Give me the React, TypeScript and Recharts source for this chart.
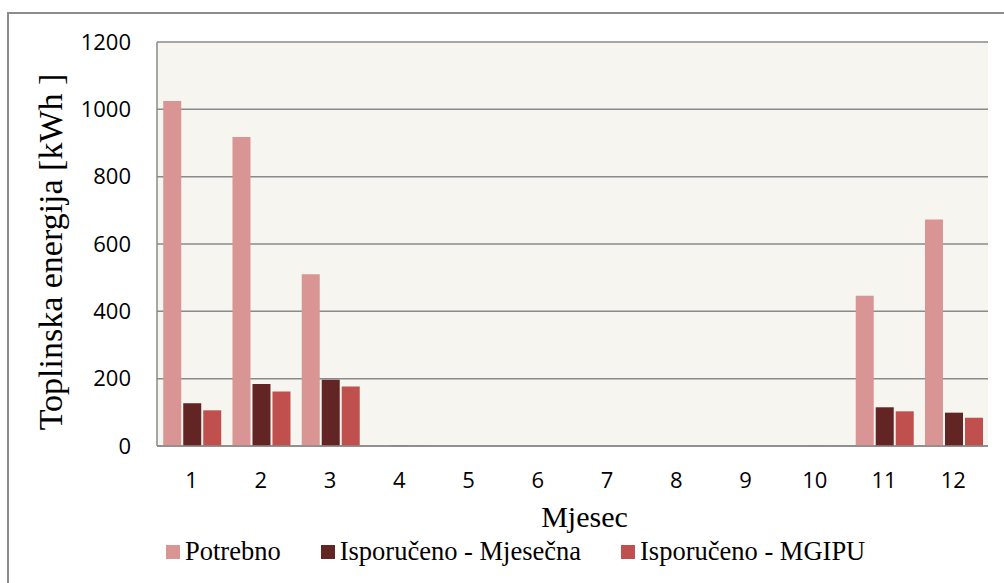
import React from 'react';
import { BarChart, Bar, XAxis, YAxis, CartesianGrid, Legend } from 'recharts';

const months = ['1', '2', '3', '4', '5', '6', '7', '8', '9', '10', '11', '12'];
const potrebno = [1025, 918, 510, 2, 0, 0, 0, 0, 0, 1, 446, 673];
const isporucenoMjesecna = [127, 184, 197, 1, 0, 0, 0, 0, 0, 0.5, 115, 99];
const isporucenoMgipu = [106, 162, 177, 1, 0, 0, 0, 0, 0, 0.5, 103, 84];
const yTicks = [0, 200, 400, 600, 800, 1000, 1200];
const seriesOrder = ['Potrebno', 'Isporučeno - Mjesečna', 'Isporučeno - MGIPU'];

const data = months.map((m, i) => ({
  month: m,
  potrebno: potrebno[i],
  mjesecna: isporucenoMjesecna[i],
  mgipu: isporucenoMgipu[i],
}));

const serif = 'Liberation Serif, DejaVu Serif, Noto Serif, Times New Roman, Times, Tinos, FreeSerif, serif';
const sans = "'Open Sans', 'Noto Sans', sans-serif";

// legend drawn in one row with wide gaps like the original
const renderLegend = (props: any) => {
  const items = [...props.payload].sort(
    (a: any, b: any) => seriesOrder.indexOf(a.value) - seriesOrder.indexOf(b.value)
  );
  return (
    <div style={{ display: 'flex', alignItems: 'center', fontFamily: serif, fontSize: 26.5, color: '#000' }}>
      {items.map((entry: any) => (
        <div key={entry.value} style={{ display: 'flex', alignItems: 'center', marginRight: 40 }}>
          <span style={{ width: 14, height: 14, background: entry.color, display: 'inline-block', marginRight: 5 }} />
          <span>{entry.value}</span>
        </div>
      ))}
    </div>
  );
};

const YTitle = (props: any) => {
  const { viewBox } = props;
  const cx = viewBox.x + 62;
  const cy = viewBox.y + viewBox.height / 2 + 8;
  return (
    <text
      transform={`translate(${cx}, ${cy}) rotate(-90)`}
      textAnchor="middle"
      fontFamily={serif}
      fontSize={34}
      fill="#000"
    >
      Toplinska energija  [kWh ]
    </text>
  );
};

const XTitle = (props: any) => {
  const { viewBox } = props;
  return (
    <text
      x={viewBox.x + viewBox.width / 2 + 12}
      y={viewBox.y + 81}
      textAnchor="middle"
      fontFamily={serif}
      fontSize={30}
      fill="#000"
    >
      Mjesec
    </text>
  );
};

export default function App() {
  return (
    <div style={{ position: 'fixed', left: 0, top: 0, width: 1004, height: 583, background: '#fff', overflow: 'hidden' }}>
      <div
        style={{
          position: 'absolute',
          left: 7,
          top: 12,
          width: 1010,
          height: 600,
          border: '2px solid #8c8c8c',
        }}
      />
      <div style={{ position: 'absolute', left: 0, top: 0 }}>
        <BarChart
          width={1004}
          height={583}
          data={data}
          margin={{ top: 42, right: 16, left: 0, bottom: 0 }}
          barCategoryGap="9%"
          barGap={2}
        >
          <CartesianGrid vertical={false} stroke="#8a8a8a" strokeWidth={1.5} fill="#f6f5f0" />
          <XAxis
            dataKey="month"
            height={137}
            axisLine={{ stroke: '#8a8a8a', strokeWidth: 1.5 }}
            tickLine={false}
            tickMargin={20}
            interval={0}
            tick={{ fill: '#000', fontSize: 22, fontFamily: sans }}
            label={<XTitle />}
          />
          <YAxis
            width={157}
            domain={[0, 1200]}
            ticks={yTicks}
            interval={0}
            axisLine={{ stroke: '#8a8a8a', strokeWidth: 1.5 }}
            tickLine={false}
            tickMargin={20}
            tick={{ fill: '#000', fontSize: 22, fontFamily: sans }}
            label={<YTitle />}
          />
          <Legend
            layout="horizontal"
            verticalAlign="middle"
            align="center"
            content={renderLegend}
            wrapperStyle={{ left: 166, top: 536, width: 'auto' }}
          />
          <Bar dataKey="potrebno" name="Potrebno" fill="#d99594" isAnimationActive={false} />
          <Bar dataKey="mjesecna" name="Isporučeno - Mjesečna" fill="#632523" isAnimationActive={false} />
          <Bar dataKey="mgipu" name="Isporučeno - MGIPU" fill="#c0504d" isAnimationActive={false} />
        </BarChart>
      </div>
    </div>
  );
}
